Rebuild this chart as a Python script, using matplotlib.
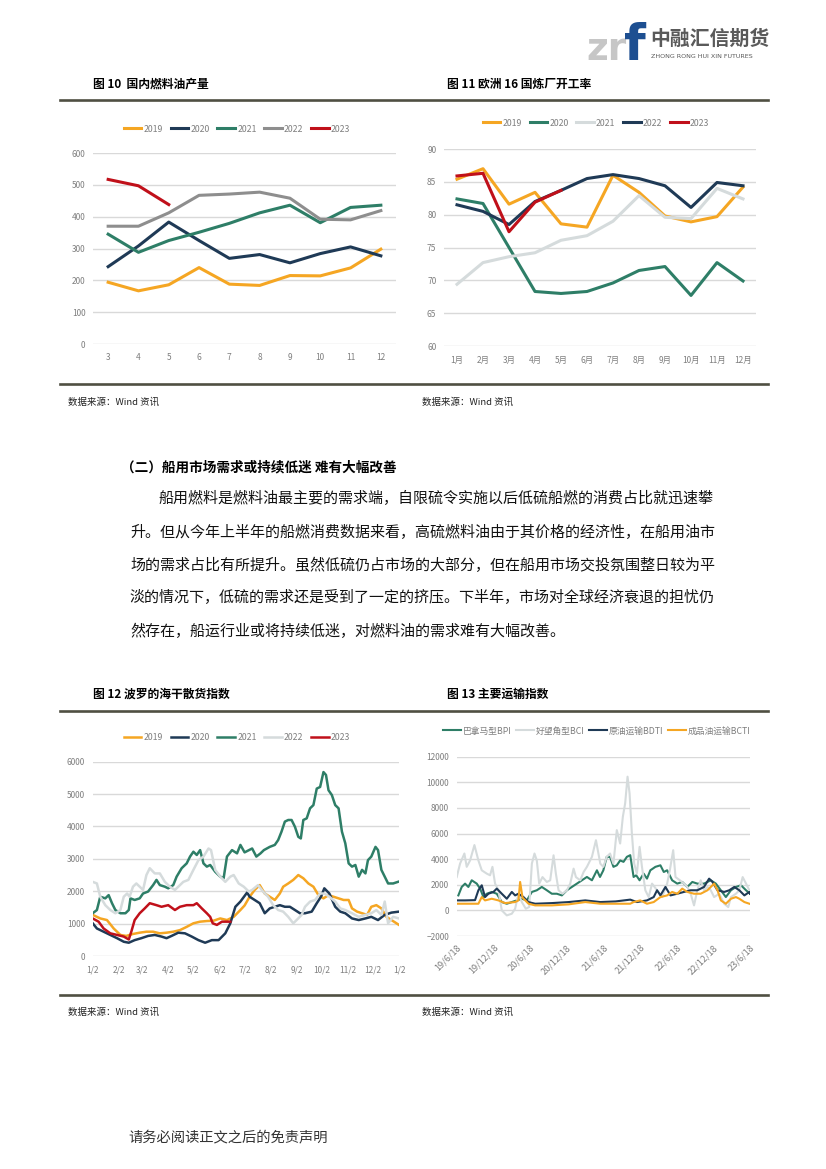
import matplotlib
matplotlib.use("Agg")
import matplotlib.pyplot as plt
from matplotlib.lines import Line2D

plt.rcParams['font.family'] = ['Noto Sans CJK SC', 'DejaVu Sans']

# ---------------- data ----------------
# fig 10: domestic fuel oil output, months 3..12
m10 = ['3', '4', '5', '6', '7', '8', '9', '10', '11', '12']
out_2019 = [194, 167, 186, 240, 188, 184, 215, 214, 239, 298]
out_2020 = [243, 308, 383, 325, 269, 281, 255, 284, 305, 277]
out_2021 = [345, 288, 325, 351, 379, 412, 436, 381, 429, 436]
out_2022 = [370, 370, 412, 467, 471, 477, 458, 392, 390, 419]
out_2023 = [517, 497, 438]

# fig 11: europe 16 refinery utilisation
m11 = ['1月', '2月', '3月', '4月', '5月', '6月', '7月', '8月', '9月', '10月', '11月', '12月']
ref_2019 = [85.4, 87.0, 81.6, 83.4, 78.6, 78.1, 86.0, 83.4, 79.8, 78.9, 79.7, 84.2]
ref_2020 = [82.4, 81.7, 75.0, 68.3, 68.0, 68.3, 69.6, 71.5, 72.1, 67.7, 72.7, 69.9]
ref_2021 = [69.4, 72.7, 73.6, 74.2, 76.1, 76.8, 79.0, 82.9, 79.6, 79.4, 84.0, 82.4]
ref_2022 = [81.5, 80.5, 78.5, 82.0, 83.7, 85.5, 86.1, 85.5, 84.4, 81.1, 84.9, 84.4]
ref_2023 = [85.9, 86.3, 77.4, 81.9, 83.7]

# fig 12: BDI by year, x = day offset from 1/2
bdi_d2019 = [0, 9, 17, 25, 33, 40, 48, 56, 64, 72, 80, 88, 96, 104, 112, 120, 128, 136, 144, 152,
             160, 168, 176, 181, 187, 193, 199, 205, 211, 217, 223, 227, 233, 239, 245, 251, 257, 263, 269, 275,
             281, 287, 293, 299, 305, 309, 315, 321, 327, 332, 338, 344, 350, 356, 365]
bdi_v2019 = [1270, 1160, 1110, 850, 650, 620, 680, 720, 750, 750, 700, 720, 750, 800, 900, 1010, 1060, 1080, 1090, 1160,
             1110, 1210, 1420, 1560, 1830, 2040, 2190, 1930, 1830, 1730, 1930, 2140, 2240, 2350, 2500, 2400, 2240, 2140, 1880, 1780,
             1880, 1830, 1780, 1730, 1730, 1470, 1370, 1320, 1270, 1520, 1570, 1470, 1210, 1110, 960]
bdi_d2020 = [0, 5, 13, 21, 29, 37, 43, 50, 58, 66, 74, 82, 88, 94, 102, 110, 118, 126, 134, 142,
             150, 158, 164, 170, 176, 184, 187, 193, 199, 205, 211, 217, 223, 229, 235, 241, 247, 253, 261, 267,
             272, 276, 282, 289, 295, 301, 309, 317, 325, 332, 340, 348, 356, 365]
bdi_v2020 = [1010, 850, 750, 650, 550, 440, 410, 490, 550, 620, 650, 600, 550, 620, 720, 700, 600, 490, 410, 490,
             490, 700, 1010, 1520, 1680, 1960, 1830, 1730, 1630, 1320, 1470, 1520, 1570, 1520, 1520, 1420, 1320, 1320, 1370, 1630,
             1830, 2090, 1930, 1520, 1370, 1320, 1160, 1110, 1160, 1210, 1110, 1270, 1340, 1370]
bdi_d2021 = [0, 5, 9, 15, 19, 23, 27, 33, 39, 43, 45, 50, 56, 60, 66, 72, 76, 80, 86, 90,
             96, 100, 106, 112, 116, 120, 124, 128, 132, 136, 140, 146, 152, 156, 160, 166, 172, 176, 181, 190,
             195, 200, 204, 211, 217, 221, 225, 229, 233, 237, 241, 245, 248, 251, 255, 259, 263, 267, 271, 275,
             278, 281, 285, 289, 293, 297, 301, 305, 309, 313, 317, 321, 325, 328, 332, 337, 340, 344, 348, 352,
             358, 365]
bdi_v2021 = [1320, 1420, 1830, 1780, 1880, 1630, 1420, 1320, 1320, 1420, 1780, 1730, 1780, 1930, 1990, 2190, 2350, 2190, 2140, 2090,
             2190, 2450, 2710, 2860, 3070, 3220, 3120, 3270, 2860, 2760, 2810, 2600, 2450, 2400, 3070, 3270, 3170, 3430, 3200, 3320,
             3070, 3170, 3270, 3370, 3430, 3580, 3840, 4150, 4200, 4200, 3990, 3680, 3630, 4200, 4250, 4560, 4660, 5170, 5220, 5680,
             5590, 5120, 4970, 4660, 4560, 3840, 3480, 2860, 2760, 2810, 2450, 2660, 2550, 2960, 3070, 3370, 3270, 2660, 2450, 2240,
             2240, 2300]
bdi_d2022 = [0, 5, 9, 15, 21, 27, 33, 37, 41, 44, 48, 52, 60, 64, 68, 74, 80, 86, 92, 98,
             102, 108, 114, 120, 126, 132, 138, 141, 146, 152, 158, 164, 168, 174, 180, 186, 190, 197, 203, 209,
             215, 221, 227, 233, 239, 243, 249, 253, 259, 265, 271, 276, 282, 289, 295, 301, 309, 317, 325, 332,
             338, 344, 348, 352, 358, 365]
bdi_v2022 = [2290, 2240, 1830, 1570, 1420, 1320, 1420, 1830, 1930, 1830, 2140, 2240, 2040, 2500, 2710, 2550, 2550, 2290, 2140, 2040,
             2140, 2290, 2350, 2660, 2960, 3070, 3320, 3270, 2660, 2450, 2290, 2450, 2500, 2240, 2140, 1990, 2040, 2190, 1990, 1830,
             1570, 1420, 1370, 1210, 1010, 1110, 1270, 1520, 1680, 1730, 1930, 1930, 1830, 1680, 1470, 1420, 1320, 1210, 1270, 1320,
             1420, 1270, 1680, 1010, 1210, 1160]
bdi_d2023 = [0, 7, 13, 21, 29, 37, 43, 46, 50, 56, 62, 68, 76, 82, 90, 98, 104, 112, 120, 124,
             130, 136, 140, 143, 148, 154, 160, 164]
bdi_v2023 = [1160, 1060, 850, 700, 650, 600, 510, 750, 1110, 1320, 1470, 1630, 1570, 1520, 1570, 1420, 1520, 1570, 1570, 1630,
             1470, 1320, 1210, 1010, 960, 1060, 1060, 1060]
bdi_ticks = [0, 31, 59, 90, 120, 151, 181, 212, 243, 273, 304, 334, 365]
bdi_ticklabels = ['1/2', '2/2', '3/2', '4/2', '5/2', '6/2', '7/2', '8/2', '9/2', '10/2', '11/2', '12/2', '1/2']

# fig 13: freight indices, x = months after 2019-06-18
bpi_m = [0.27, 0.82, 1.37, 1.91, 2.46, 3.28, 3.83, 4.37, 4.92, 5.74, 6.56, 7.38, 8.2, 9.02, 9.84, 10.66, 11.48, 12.3,
         13.11, 13.93, 14.75, 15.57, 16.39, 17.21, 18.03, 18.85, 19.67, 20.49, 21.31, 22.13, 22.95, 23.45, 24.0, 24.55,
         25.1, 25.65, 26.2, 26.75, 27.3, 27.85, 28.4, 28.95, 29.38, 29.93, 30.59, 31.14, 31.69, 32.52, 33.34, 33.89,
         34.44, 35.26, 36.09, 36.91, 37.74, 38.56, 39.38, 40.48, 41.58, 42.41, 43.23, 44.05, 44.88, 45.7, 46.53, 47.35, 48.0]
bpi_v = [1170, 1830, 2090, 1830, 2350, 2090, 1700, 1040, 1300, 1440, 1300, 650, 520, 650, 780, 910, 780, 1440,
         1570, 1830, 1570, 1300, 1300, 1170, 1570, 1830, 2090, 2350, 2610, 2350, 3130, 2610, 3130, 4180,
         4180, 3400, 3520, 3900, 3790, 4180, 4310, 2610, 2740, 2350, 2870, 2480, 3130, 3400, 3520, 3000,
         3130, 2350, 2090, 2220, 1830, 2220, 2090, 2090, 2350, 2090, 1570, 1040, 1570, 1830, 1960, 1570, 1300]
bci_m = [0.0, 0.55, 1.26, 1.64, 2.19, 2.9, 3.55, 4.1, 4.92, 5.46, 5.85, 6.28, 6.83, 7.38, 8.2, 9.02, 9.56, 10.1,
         10.66, 11.31, 11.86, 12.3, 12.73, 13.11, 13.5, 14.04, 14.75, 15.3, 15.85, 16.23, 16.67, 17.32, 18.03, 18.58,
         19.13, 19.51, 20.22, 20.77, 21.31, 22.13, 22.79, 23.5, 24.0, 24.55, 25.1, 25.65, 26.2, 26.75, 27.19, 27.57,
         27.96, 28.29, 28.67, 29.05, 29.49, 29.93, 30.32, 30.87, 31.42, 31.97, 32.79, 33.62, 34.44, 34.88, 35.43, 35.81,
         36.53, 37.19, 37.74, 38.29, 38.84, 39.38, 39.93, 40.48, 41.03, 41.58, 42.13, 42.96, 43.78, 44.44, 44.88, 45.7,
         46.25, 46.8, 47.35, 47.9]
bci_v = [2600, 3650, 4440, 3400, 3900, 5100, 3900, 3130, 2870, 2740, 3400, 2090, 1570, 0, -390, -260, 130, 1300,
         650, 130, 260, 3650, 4440, 3900, 2090, 2600, 2220, 2350, 4300, 2870, 1570, 1300, 1570, 2090,
         3260, 2600, 2350, 3000, 3400, 4180, 5480, 3650, 3400, 4180, 4440, 3650, 6270, 5220, 7310, 8360,
         10440, 9140, 6000, 3650, 2870, 4960, 3400, 1570, 1040, 2090, 1570, 1040, 2090, 3130, 4700, 2600,
         2350, 2090, 1830, 1300, 390, 1570, 2350, 1570, 1830, 1570, 1040, 1300, 520, 260, 1040, 1300,
         1570, 2600, 2090, 1570]
bdti_m = [0.0, 1.37, 3.0, 3.55, 4.1, 4.64, 5.19, 6.01, 6.56, 7.38, 8.2, 9.02, 9.56, 10.1, 10.93, 11.75, 12.84,
          15.57, 18.31, 21.04, 23.5, 26.0, 28.4, 29.49, 31.14, 32.24, 32.79, 33.34, 34.16, 34.99, 36.09, 37.19,
          38.29, 39.38, 40.48, 41.31, 41.86, 42.68, 43.78, 44.6, 45.43, 46.25, 47.08, 47.9, 48.0]
bdti_v = [780, 780, 800, 1570, 1960, 1040, 1300, 1440, 1700, 1300, 910, 1440, 1170, 1300, 1040, 650, 520,
          570, 650, 780, 650, 700, 840, 650, 780, 1040, 1570, 1170, 1830, 1170, 1300, 1440,
          1570, 1570, 1830, 2480, 2220, 1570, 1440, 1570, 1830, 1570, 1170, 1440, 1300]
bcti_m = [0.0, 3.55, 4.1, 4.64, 5.74, 6.83, 7.92, 9.56, 10.1, 10.38, 10.77, 11.75, 12.84, 15.57, 18.31, 21.04,
          23.5, 28.4, 28.95, 30.04, 31.14, 32.24, 33.34, 34.44, 35.26, 36.09, 36.91, 37.74, 38.84, 39.93, 41.03,
          42.13, 42.68, 43.23, 44.05, 44.88, 45.7, 46.25, 47.08, 47.9]
bcti_v = [520, 520, 1040, 780, 910, 780, 570, 650, 780, 2220, 1000, 520, 390, 390, 470, 650,
          520, 520, 650, 780, 520, 650, 1040, 1170, 1440, 1300, 1700, 1440, 1300, 1300, 1570,
          2090, 1570, 780, 520, 910, 1040, 910, 650, 520]
frt_ticks = [0, 6, 12, 18, 24, 30, 36, 42, 48]
frt_ticklabels = ['19/6/18', '19/12/18', '20/6/18', '20/12/18', '21/6/18', '21/12/18', '22/6/18', '22/12/18', '23/6/18']

# ---------------- styling ----------------
ORANGE = '#F5A623'
NAVY = '#1F3A56'
GREEN = '#2E7E67'
GREY = '#8E8E8E'
LIGHT = '#D5DBDC'
RED = '#C0101A'
TICK = '#7F7F7F'
RULE = '#4F4F42'

W, H = 826, 1169
fig = plt.figure(figsize=(W / 100, H / 100), dpi=100)


def rect(x0, y0, x1, y1):
    return [x0 / W, 1 - y1 / H, (x1 - x0) / W, (y1 - y0) / H]


def fx(x):
    return x / W


def fy(y):
    return 1 - y / H


def style(ax, xpad=6.5, xsize=6):
    for s in ax.spines.values():
        s.set_visible(False)
    ax.yaxis.grid(True, color='#D9D9D9', lw=1)
    ax.set_axisbelow(True)
    ax.tick_params(axis='both', length=0, labelsize=6, colors=TICK)
    ax.tick_params(axis='y', pad=5.5)
    ax.tick_params(axis='x', pad=xpad, labelsize=xsize)


def legend(ax, cx, cy, fs=6, hl=2.0, cs=0.9):
    ax.legend(loc='center', bbox_to_anchor=(fx(cx), fy(cy)), bbox_transform=fig.transFigure,
              ncol=5, frameon=False, fontsize=fs, handlelength=hl, handletextpad=0.25,
              columnspacing=cs, labelcolor=TICK)


# rules and captions
for y in [100, 384, 711, 995]:
    fig.add_artist(Line2D([fx(60), fx(768)], [fy(y), fy(y)], color=RULE, lw=1.9))

fig.text(fx(93), fy(84), '图 10  国内燃料油产量', fontsize=8.5, fontweight='bold', va='center')
fig.text(fx(447), fy(84), '图 11 欧洲 16 国炼厂开工率', fontsize=8.5, fontweight='bold', va='center')
fig.text(fx(93), fy(694), '图 12 波罗的海干散货指数', fontsize=8.5, fontweight='bold', va='center')
fig.text(fx(447), fy(694), '图 13 主要运输指数', fontsize=8.5, fontweight='bold', va='center')
for x, y in [(68, 402), (422, 402), (68, 1012), (422, 1012)]:
    fig.text(fx(x), fy(y), '数据来源：Wind 资讯', fontsize=6.8, va='center', color='#222222')

# ---------------- fig 10 ----------------
ax = fig.add_axes(rect(93, 153, 396, 344))
style(ax)
x = list(range(len(m10)))
ax.plot(x, out_2019, color=ORANGE, lw=2.2, label='2019')
ax.plot(x, out_2020, color=NAVY, lw=2.2, label='2020')
ax.plot(x, out_2021, color=GREEN, lw=2.2, label='2021')
ax.plot(x, out_2022, color=GREY, lw=2.2, label='2022')
ax.plot(x[:len(out_2023)], out_2023, color=RED, lw=2.2, label='2023')
ax.set_xlim(-0.5, len(m10) - 0.5)
ax.set_ylim(0, 600)
ax.set_yticks(range(0, 601, 100))
ax.set_xticks(x)
ax.set_xticklabels(m10)
legend(ax, 237, 129, fs=6.3)

# ---------------- fig 11 ----------------
ax = fig.add_axes(rect(444, 149, 756, 346))
style(ax, xpad=7)
x = list(range(len(m11)))
ax.plot(x, ref_2019, color=ORANGE, lw=2.2, label='2019')
ax.plot(x, ref_2020, color=GREEN, lw=2.2, label='2020')
ax.plot(x, ref_2021, color=LIGHT, lw=2.2, label='2021')
ax.plot(x, ref_2022, color=NAVY, lw=2.2, label='2022')
ax.plot(x[:len(ref_2023)], ref_2023, color=RED, lw=2.2, label='2023')
ax.set_xlim(-0.5, len(m11) - 0.5)
ax.set_ylim(60, 90)
ax.set_yticks(range(60, 91, 5))
ax.set_xticks(x)
ax.set_xticklabels(m11)
legend(ax, 596, 123, fs=6.3)

# ---------------- fig 12 ----------------
ax = fig.add_axes(rect(92.7, 761.7, 399, 956))
style(ax, xpad=7)
ax.plot(bdi_d2019, bdi_v2019, color=ORANGE, lw=1.8, label='2019')
ax.plot(bdi_d2020, bdi_v2020, color=NAVY, lw=1.8, label='2020')
ax.plot(bdi_d2021, bdi_v2021, color=GREEN, lw=1.8, label='2021')
ax.plot(bdi_d2022, bdi_v2022, color=LIGHT, lw=1.8, label='2022')
ax.plot(bdi_d2023, bdi_v2023, color=RED, lw=1.8, label='2023')
ax.set_xlim(0, 365)
ax.set_ylim(0, 6000)
ax.set_yticks(range(0, 6001, 1000))
ax.set_xticks(bdi_ticks)
ax.set_xticklabels(bdi_ticklabels)
legend(ax, 237, 738, fs=6.3)

# ---------------- fig 13 ----------------
ax = fig.add_axes(rect(456.7, 756.7, 750, 936))
style(ax, xpad=5, xsize=6.6)
ax.plot(bpi_m, bpi_v, color=GREEN, lw=1.5, label='巴拿马型BPI')
ax.plot(bci_m, bci_v, color=LIGHT, lw=1.5, label='好望角型BCI')
ax.plot(bdti_m, bdti_v, color=NAVY, lw=1.5, label='原油运输BDTI')
ax.plot(bcti_m, bcti_v, color=ORANGE, lw=1.5, label='成品油运输BCTI')
ax.set_xlim(0, 48)
ax.set_ylim(-2000, 12000)
ax.set_yticks(range(-2000, 12001, 2000))
ax.set_xticks(frt_ticks)
ax.set_xticklabels(frt_ticklabels, rotation=45, ha='right', va='top', rotation_mode='anchor')
legend(ax, 597, 731, fs=6.3, hl=2.0, cs=0.5)

# ---------------- body text ----------------
fig.text(fx(121), fy(467), '（二）船用市场需求或持续低迷 难有大幅改善', fontsize=9.8,
         fontweight='bold', va='center')
body = [
    (158, 498, '船用燃料是燃料油最主要的需求端，自限硫令实施以后低硫船燃的消费占比就迅速攀'),
    (130, 532, '升。但从今年上半年的船燃消费数据来看，高硫燃料油由于其价格的经济性，在船用油市'),
    (130, 565, '场的需求占比有所提升。虽然低硫仍占市场的大部分，但在船用市场交投氛围整日较为平'),
    (130, 598, '淡的情况下，低硫的需求还是受到了一定的挤压。下半年，市场对全球经济衰退的担忧仍'),
    (130, 631, '然存在，船运行业或将持续低迷，对燃料油的需求难有大幅改善。'),
]
for x0, y0, line in body:
    fig.text(fx(x0), fy(y0), line, fontsize=10.8, va='center', color='#111111')

fig.text(fx(128), fy(1138), '请务必阅读正文之后的免责声明', fontsize=10.3, va='center', color='#333333')

# ---------------- logo ----------------
fig.text(fx(586), fy(60), 'zr', fontsize=27, fontweight='bold', color='#C6C6C6', va='baseline',
         family='DejaVu Sans')
fig.text(fx(624), fy(60), 'f', fontsize=36, fontweight='bold', color='#1D4F91', va='baseline',
         family='DejaVu Sans')
fig.text(fx(650), fy(38), '中融汇信期货', fontsize=14.3, fontweight='bold', color='#5A5A5A', va='center')
fig.text(fx(651), fy(57), 'ZHONG RONG HUI XIN FUTURES', fontsize=4.6, color='#5A5A5A', va='center',
         family='DejaVu Sans')

fig.savefig('out.png', dpi=100)
